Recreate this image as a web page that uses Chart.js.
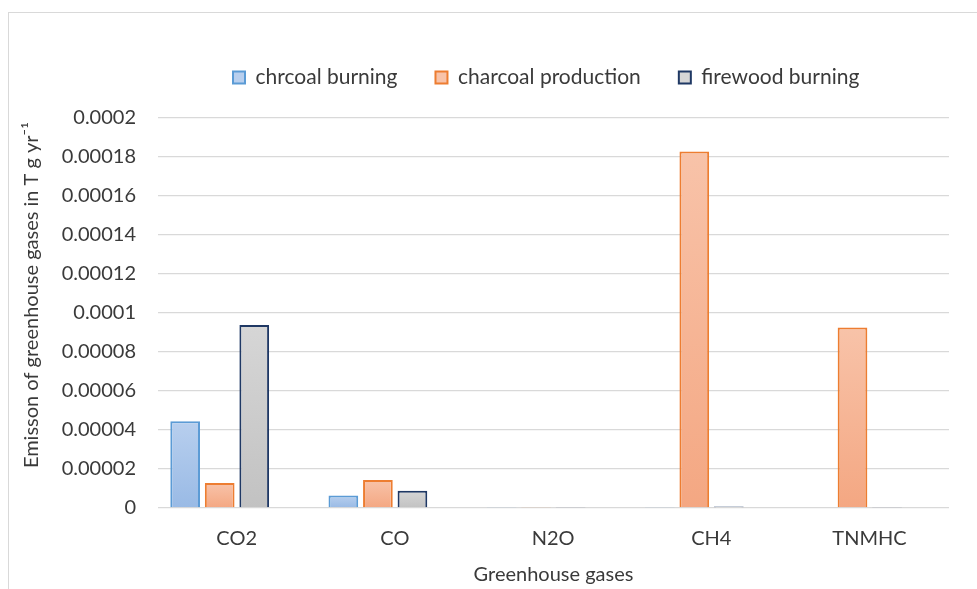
<!DOCTYPE html>
<html lang="en">
<head>
  <meta charset="UTF-8" />
  <title>Greenhouse gas emissions</title>
  <script src="https://cdn.jsdelivr.net/npm/chart.js"></script>
  <style>
    body {
      margin: 0;
      background: #fff;
      font-family: 'Lato', sans-serif;
    }
    .frame {
      position: absolute;
      left: 8px;
      top: 12px;
      width: 1000px;
      height: 600px;
      border: 1px solid #d9d9d9;
      box-sizing: border-box;
    }
    .wrap {
      position: absolute;
      left: 0;
      top: 0;
      width: 977px;
      height: 589px;
    }
  </style>
</head>
<body>
  <div class="frame"></div>
  <div class="wrap">
    <canvas id="gasChart" width="977" height="589"></canvas>
  </div>

<script>
  const gases = ['CO2', 'CO', 'N2O', 'CH4', 'TNMHC'];
  const charcoalBurning = [0.0000445, 0.0000064, 0.0000005, 0.0000005, 0];
  const charcoalProduction = [0.0000128, 0.0000144, 0.0000005, 0.0001828, 0.0000926];
  const firewoodBurning = [0.0000939, 0.0000088, 0.0000005, 0.0000008, 0.0000005];
  const yTicks = [0, 0.00002, 0.00004, 0.00006, 0.00008, 0.0001, 0.00012, 0.00014, 0.00016, 0.00018, 0.0002];

  const textColor = '#3a3a3a';
  const axisFont = { family: 'Lato', size: 20 };

  // bars sit a bit left of their category label in the original,
  // so x is a linear index scale with a shifted range
  const xMin = -0.39;
  const xMax = 4.61;

  function points(values) {
    return values.map((v, i) => ({ x: i, y: v }));
  }

  // per bar vertical gradient, lighter on top like the office default
  function barFill(top, bottom, solid) {
    return function (context) {
      const chart = context.chart;
      if (context.type !== 'data' || !chart.chartArea || !context.parsed) return solid;
      const y = chart.scales.y;
      const y0 = y.getPixelForValue(context.parsed.y);
      const y1 = y.getPixelForValue(0);
      if (!isFinite(y0) || Math.abs(y1 - y0) < 1) return solid;
      const g = chart.ctx.createLinearGradient(0, y0, 0, y1);
      g.addColorStop(0, top);
      g.addColorStop(1, bottom);
      return g;
    };
  }

  const legendPlace = {
    id: 'legendPlace',
    beforeInit(chart) {
      const fit = chart.legend.fit;
      chart.legend.fit = function () {
        fit.bind(chart.legend)();
        this.height = 89;
      };
    },
    afterLayout(chart) {
      const lg = chart.legend;
      const pad = lg.options.labels.padding;
      const w = lg.right - lg.left;
      lg.left = 233 - pad;
      lg.right = lg.left + w;
    }
  };

  const ctx = document.getElementById('gasChart').getContext('2d');
  new Chart(ctx, {
    type: 'bar',
    data: {
      datasets: [
        {
          label: 'chrcoal burning',
          data: points(charcoalBurning),
          backgroundColor: barFill('#b8cfee', '#99bae5', '#a9c4ea'),
          borderColor: '#5b9bd5',
          borderWidth: 2
        },
        {
          label: 'charcoal production',
          data: points(charcoalProduction),
          backgroundColor: barFill('#f8c3a9', '#f4a782', '#f6b696'),
          borderColor: '#ed7d31',
          borderWidth: 2
        },
        {
          label: 'firewood burning',
          data: points(firewoodBurning),
          backgroundColor: barFill('#d6d6d6', '#c2c2c2', '#cbcbcb'),
          borderColor: '#1f3864',
          borderWidth: 2
        }
      ]
    },
    options: {
      responsive: false,
      animation: false,
      categoryPercentage: 0.655,
      barPercentage: 0.86,
      layout: {
        padding: { top: 29, right: 28, bottom: 0, left: 0 }
      },
      plugins: {
        legend: {
          position: 'top',
          align: 'start',
          labels: {
            color: textColor,
            font: { family: 'Lato', size: 21 },
            boxWidth: 12,
            boxHeight: 12,
            padding: 38
          }
        },
        tooltip: { enabled: false }
      },
      scales: {
        x: {
          type: 'linear',
          min: xMin,
          max: xMax,
          offset: false,
          grid: { display: false, drawTicks: false },
          border: { display: false },
          afterBuildTicks: scale => {
            scale.ticks = gases.map((g, i) => ({ value: i }));
          },
          ticks: {
            color: textColor,
            font: axisFont,
            padding: 19,
            labelOffset: 17,
            callback: v => gases[v]
          },
          title: {
            display: true,
            text: 'Greenhouse gases',
            color: textColor,
            font: axisFont,
            padding: { top: 0, bottom: 2 }
          },
          afterFit: scale => { scale.height = 81; }
        },
        y: {
          min: 0,
          max: 0.0002,
          grid: { color: '#d9d9d9', lineWidth: 1.3, drawTicks: false },
          border: { display: false },
          afterBuildTicks: scale => {
            scale.ticks = yTicks.map(v => ({ value: v }));
          },
          ticks: {
            color: textColor,
            font: axisFont,
            padding: 22,
            callback: v => String(Number(v.toPrecision(6)))
          },
          title: {
            display: true,
            text: '       Emisson of greenhouse gases in T g yr⁻¹',
            color: textColor,
            font: axisFont,
            padding: { top: 20, bottom: 0 }
          },
          afterFit: scale => { scale.width = 158; }
        }
      }
    },
    plugins: [legendPlace]
  });
</script>
</body>
</html>
